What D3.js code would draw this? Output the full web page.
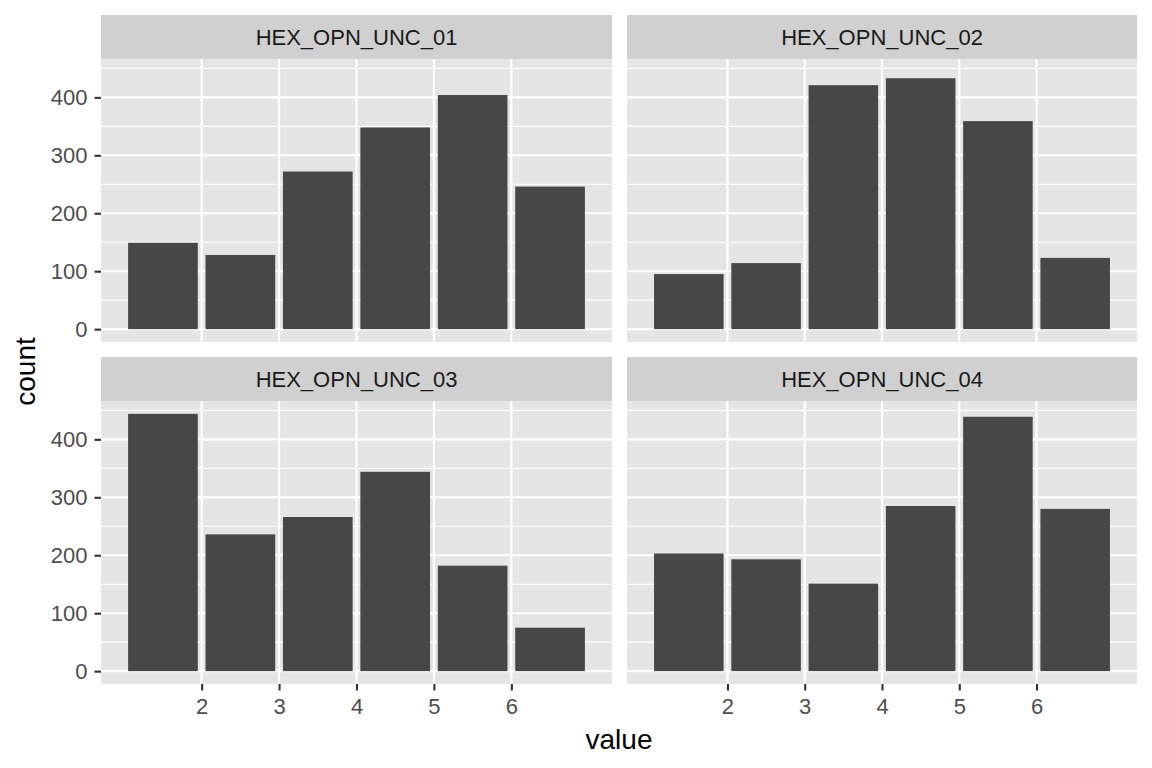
<!DOCTYPE html>
<html>
<head>
<meta charset="utf-8">
<script src="https://cdn.jsdelivr.net/npm/d3@7"></script>
<style>
  body { margin: 0; background: #fff; }
  svg { display: block; font-family: "Liberation Sans", Arial, sans-serif; }
</style>
</head>
<body>
<svg id="chart"></svg>
<script>
// facets and bar counts
let facets = ["HEX_OPN_UNC_01", "HEX_OPN_UNC_02", "HEX_OPN_UNC_03", "HEX_OPN_UNC_04"]
let binCenters = [1.5, 2.5, 3.5, 4.5, 5.5, 6.5]
let counts01 = [149, 128, 272, 348, 404, 246]
let counts02 = [95, 114, 421, 433, 359, 123]
let counts03 = [444, 236, 266, 344, 182, 75]
let counts04 = [203, 193, 151, 285, 439, 280]
let xTicks = [2, 3, 4, 5, 6]
let yTicks = [0, 100, 200, 300, 400]
let yMinor = [50, 150, 250, 350, 450]

let allCounts = [counts01, counts02, counts03, counts04]
let width = 1152
let height = 768
let binWidth = 0.9

// panel layout
let cols = [[101, 612], [627, 1137]]
let rows = [{strip: 15, top: 59, bottom: 342}, {strip: 357, top: 401, bottom: 684}]

let ymax = d3.max(allCounts.flat())
let yDomain = [-0.05 * ymax, 1.05 * ymax]

const svg = d3.select("#chart")
    .attr("width", width)
    .attr("height", height)
    .attr("viewBox", [0, 0, width, height])

facets.forEach((name, i) => {
  let col = cols[i % 2], row = rows[Math.floor(i / 2)]
  let x = d3.scaleLinear().domain([0.7, 7.3]).range(col)
  let y = d3.scaleLinear().domain(yDomain).range([row.bottom, row.top])
  let data = binCenters.map((c, j) => ({c, n: allCounts[i][j]}))

  const g = svg.append("g")

  // strip
  g.append("rect")
      .attr("x", col[0]).attr("y", row.strip)
      .attr("width", col[1] - col[0]).attr("height", row.top - row.strip)
      .attr("fill", "#d0d0d0")
  g.append("text")
      .attr("x", (col[0] + col[1]) / 2).attr("y", (row.strip + row.top) / 2)
      .attr("dy", "0.36em")
      .attr("text-anchor", "middle")
      .attr("font-size", 22)
      .attr("fill", "#1a1a1a")
      .text(name)

  // panel background
  g.append("rect")
      .attr("x", col[0]).attr("y", row.top)
      .attr("width", col[1] - col[0]).attr("height", row.bottom - row.top)
      .attr("fill", "#e5e5e5")

  g.selectAll(".minor")
    .data(yMinor.filter(v => y(v) > row.top))
    .join("line")
      .attr("x1", col[0]).attr("x2", col[1])
      .attr("y1", d => y(d)).attr("y2", d => y(d))
      .attr("stroke", "#fff").attr("stroke-width", 1.1)
  g.selectAll(".majory")
    .data(yTicks)
    .join("line")
      .attr("x1", col[0]).attr("x2", col[1])
      .attr("y1", d => y(d)).attr("y2", d => y(d))
      .attr("stroke", "#fff").attr("stroke-width", 2.1)
  g.selectAll(".majorx")
    .data(xTicks)
    .join("line")
      .attr("y1", row.top).attr("y2", row.bottom)
      .attr("x1", d => x(d)).attr("x2", d => x(d))
      .attr("stroke", "#fff").attr("stroke-width", 2.1)

  // bars
  g.selectAll(".bar")
    .data(data)
    .join("rect")
      .attr("x", d => x(d.c - binWidth / 2))
      .attr("width", d => x(d.c + binWidth / 2) - x(d.c - binWidth / 2))
      .attr("y", d => y(d.n))
      .attr("height", d => y(0) - y(d.n))
      .attr("fill", "#474747")

  // y axis on left column
  if (i % 2 == 0) {
    const ya = svg.append("g")
        .attr("transform", `translate(${col[0]},0)`)
        .call(d3.axisLeft(y).tickValues(yTicks).tickFormat(d3.format("d")).tickSize(6.5).tickPadding(7))
    ya.attr("font-size", 22).attr("font-family", null)
    ya.select(".domain").remove()
    ya.selectAll(".tick line").attr("stroke", "#333").attr("stroke-width", 2.1)
    ya.selectAll(".tick text").attr("fill", "#4d4d4d")
  }
  // x axis on bottom row
  if (i >= 2) {
    const xa = svg.append("g")
        .attr("transform", `translate(0,${row.bottom})`)
        .call(d3.axisBottom(x).tickValues(xTicks).tickFormat(d3.format("d")).tickSize(6.5).tickPadding(7.5))
    xa.attr("font-size", 22).attr("font-family", null)
    xa.select(".domain").remove()
    xa.selectAll(".tick line").attr("stroke", "#333").attr("stroke-width", 2.1)
    xa.selectAll(".tick text").attr("fill", "#4d4d4d")
  }
})

// axis titles
svg.append("text")
    .attr("x", (cols[0][0] + cols[1][1]) / 2).attr("y", 749)
    .attr("text-anchor", "middle")
    .attr("font-size", 28)
    .attr("fill", "#000")
    .text("value")
svg.append("text")
    .attr("transform", `translate(35,${(rows[0].top + rows[1].bottom) / 2})rotate(-90)`)
    .attr("text-anchor", "middle")
    .attr("font-size", 28)
    .attr("fill", "#000")
    .text("count")
</script>
</body>
</html>
